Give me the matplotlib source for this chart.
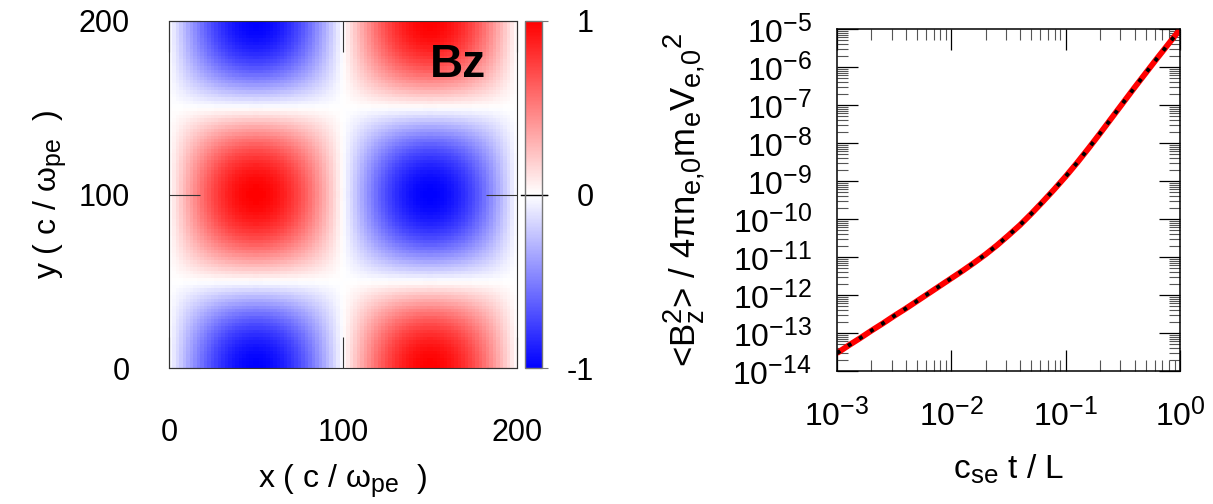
import numpy as np
import matplotlib
matplotlib.use("Agg")
import matplotlib.pyplot as plt
import matplotlib._mathtext as _mt
from matplotlib.ticker import LogLocator, FixedLocator, NullFormatter, FuncFormatter

# slightly larger sub/superscripts, closer to the original rendering
_mt.SHRINK_FACTOR = 0.78

plt.rcParams['font.family'] = ['Liberation Sans', 'DejaVu Sans']
plt.rcParams['mathtext.fontset'] = 'custom'
plt.rcParams['mathtext.rm'] = 'Liberation Sans'
plt.rcParams['mathtext.it'] = 'Liberation Sans:italic'
plt.rcParams['mathtext.bf'] = 'Liberation Sans:bold'
plt.rcParams['mathtext.default'] = 'regular'

# ---------------- data ----------------
# Left panel: Bz field on the simulation box (double periodic mode)
box_size = 200.0          # c/omega_pe
n_cells = 100
bz_amplitude = 1.0
x_ticks_left = [0, 100, 200]
y_ticks_left = [0, 100, 200]
cbar_ticks = [-1, 0, 1]
cbar_ticklabels = ['-1', '0', '1']

# Right panel: <Bz^2> growth (log10 values)
log_time = [-3.0, -2.9, -2.8, -2.7, -2.6, -2.5, -2.4, -2.3, -2.2, -2.1,
            -2.0, -1.9, -1.8, -1.7, -1.6, -1.5, -1.4, -1.3, -1.2, -1.1,
            -1.0, -0.9, -0.8, -0.7, -0.6, -0.5, -0.4, -0.3, -0.2, -0.1, 0.0]
log_bz2 = [-13.53, -13.33, -13.14, -12.94, -12.75, -12.55, -12.36, -12.16, -11.96, -11.76,
           -11.56, -11.36, -11.15, -10.93, -10.69, -10.43, -10.16, -9.86, -9.545, -9.22,
           -8.88, -8.52, -8.14, -7.75, -7.35, -6.95, -6.55, -6.16, -5.77, -5.39, -5.01]
x_decades_right = [-3, -2, -1, 0]
y_decades_right = [-14, -13, -12, -11, -10, -9, -8, -7, -6, -5]

# ---------------- figure ----------------
W, H = 1213, 504
fig = plt.figure(figsize=(W / 100, H / 100), dpi=100)

def frac(x0, y0, x1, y1):
    return [x0 / W, 1 - y1 / H, (x1 - x0) / W, (y1 - y0) / H]

ax1 = fig.add_axes(frac(169, 21, 517, 368))
cax = fig.add_axes(frac(525, 21, 542, 368))
ax2 = fig.add_axes(frac(837, 29, 1180, 371))

# heatmap
edges = np.linspace(0, box_size, n_cells + 1)
centers = 0.5 * (edges[:-1] + edges[1:])
X, Y = np.meshgrid(centers, centers)
k = 2 * np.pi / box_size
Bz = -bz_amplitude * np.sin(k * X) * np.cos(k * Y)
im = ax1.imshow(Bz, origin='lower', extent=[0, box_size, 0, box_size],
                cmap='bwr', vmin=-1, vmax=1, interpolation='nearest', aspect='auto')
ax1.set_xlim(0, box_size)
ax1.set_ylim(0, box_size)
ax1.set_xticks(x_ticks_left)
ax1.set_yticks(y_ticks_left)
ax1.tick_params(direction='in', length=22, width=0.8, color='#333333',
                top=True, right=True, labelsize=22)
ax1.tick_params(axis='x', pad=36)
ax1.tick_params(axis='y', pad=28)
for s in ax1.spines.values():
    s.set_linewidth(0.8)
    s.set_color('#333333')
ax1.set_xlabel(r'x ( c / $\omega_{pe}$  )', fontsize=23, labelpad=10)
ax1.set_ylabel(r'y ( c / $\omega_{pe}$  )', fontsize=23, labelpad=8)
ax1.text(0.83, 0.873, 'Bz', transform=ax1.transAxes, fontsize=33,
         fontweight='bold', ha='center', va='center')

cb = fig.colorbar(im, cax=cax, ticks=cbar_ticks)
cb.outline.set_edgecolor('#777777')
cb.outline.set_linewidth(1.0)
cax.set_yticklabels(cbar_ticklabels)
cax.tick_params(direction='out', length=4, width=0.8, color='#777777',
                labelsize=22, pad=33)
for lab in cax.get_yticklabels():
    lab.set_horizontalalignment('right')
cax.axhline(0, xmin=-0.25, xmax=1.3, color='black', lw=1.0, clip_on=False)

# growth curve
t = 10.0 ** np.array(log_time)
b = 10.0 ** np.array(log_bz2)
ax2.plot(t, b, color='red', lw=4.2, solid_capstyle='butt', zorder=2)
ax2.plot(t, b, color='black', lw=2.8, linestyle=(0, (1, 2.4)), zorder=3)
ax2.set_xscale('log')
ax2.set_yscale('log')
ax2.set_xlim(10.0 ** x_decades_right[0], 10.0 ** x_decades_right[-1])
ax2.set_ylim(10.0 ** y_decades_right[0], 10.0 ** y_decades_right[-1])
ax2.xaxis.set_major_locator(FixedLocator([10.0 ** d for d in x_decades_right]))
ax2.yaxis.set_major_locator(FixedLocator([10.0 ** d for d in y_decades_right]))
ax2.xaxis.set_minor_locator(LogLocator(base=10, subs=np.arange(2, 10), numticks=50))
ax2.yaxis.set_minor_locator(LogLocator(base=10, subs=np.arange(2, 10), numticks=50))
ax2.xaxis.set_minor_formatter(NullFormatter())
ax2.yaxis.set_minor_formatter(NullFormatter())
fmt = FuncFormatter(lambda v, p: r'$10^{%d}$' % int(round(np.log10(v))))
ax2.xaxis.set_major_formatter(fmt)
ax2.yaxis.set_major_formatter(fmt)
ax2.tick_params(which='major', direction='in', length=15, width=0.9,
                top=True, right=True, labelsize=23)
ax2.tick_params(which='minor', direction='in', length=8, width=0.8,
                color='#555555', top=True, right=True)
ax2.tick_params(axis='x', pad=20)
ax2.tick_params(axis='y', pad=18)
for s in ax2.spines.values():
    s.set_linewidth(1.1)
ax2.set_xlabel(r'c$_{se}$ t / L', fontsize=24, labelpad=14)
ax2.set_ylabel(r'<B$_z^2$> / 4$\pi$n$_{e{,}0}$m$_e$V$_{e{,}0}$$^2$', fontsize=25, labelpad=18)

fig.savefig('out.png', dpi=100)
